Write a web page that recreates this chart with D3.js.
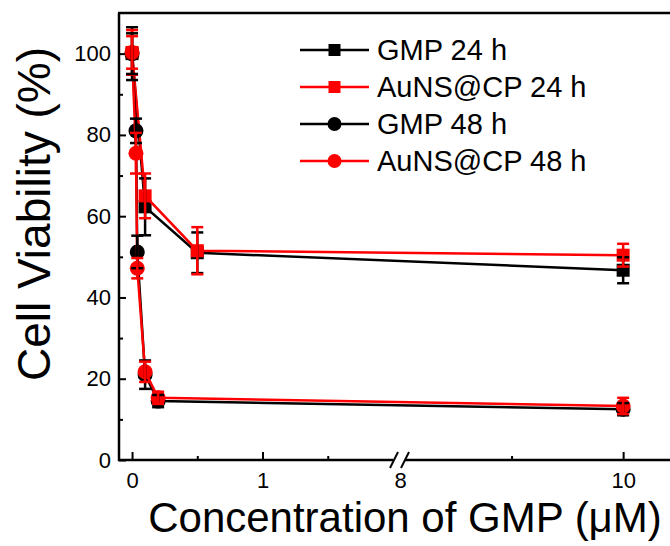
<!DOCTYPE html>
<html>
<head>
<meta charset="utf-8">
<script src="https://cdn.jsdelivr.net/npm/d3@7"></script>
<style>
  body { margin: 0; background: #fff; }
  svg text { font-family: Arial, "Liberation Sans", sans-serif; fill: #000; }
</style>
</head>
<body>
<div id="chart"></div>
<script>
// ---- values ----
var seriesNames = ['GMP 24 h', 'AuNS@CP 24 h', 'GMP 48 h', 'AuNS@CP 48 h'];
var seriesColors = ['#000000', '#ff0000', '#000000', '#ff0000'];
var seriesSymbols = ['square', 'square', 'circle', 'circle'];

var conc24 = [0, 0.1, 0.5, 10];
var gmp24 = [100, 62.3, 51, 46.7];
var gmp24Err = [6.5, 7, 5, 3.2];
var aun24 = [100.3, 65, 51.5, 50.4];
var aun24Err = [5.5, 5.5, 5.8, 2.8];

var conc48 = [0, 0.03, 0.04, 0.1, 0.2, 10];
var gmp48 = [100, 81, 51.2, 21, 14.5, 12.5];
var gmp48Err = [5, 3, 4, 3.5, 1.5, 1.5];
var aun48 = [100.3, 75.5, 47.2, 21.7, 15.3, 13.3];
var aun48Err = [4, 5, 2.5, 2.5, 1.5, 2];

var yTicks = [0, 20, 40, 60, 80, 100];
var yMinorTicks = [10, 30, 50, 70, 90];
var xTicksLeft = [0, 1];
var xMinorLeft = [0.5, 1.5];
var xTicksRight = [8, 10];
var xMinorRight = [9];

function renderChart() {
  var attrs = {
    svgWidth: 670,
    svgHeight: 546,
    plotLeft: 119,
    plotTop: 13,
    plotBottom: 460,
    plotRight: 670,
    breakLeft: 393,
    breakRight: 405
  };

  // build series rows from the arrays
  var xs = [conc24, conc24, conc48, conc48];
  var ys = [gmp24, aun24, gmp48, aun48];
  var es = [gmp24Err, aun24Err, gmp48Err, aun48Err];
  var series = seriesNames.map(function (name, i) {
    return {
      name: name,
      color: seriesColors[i],
      symbol: seriesSymbols[i],
      values: xs[i].map(function (x, j) { return { x: x, y: ys[i][j], e: es[i][j] }; })
    };
  });

  // ################## scales (broken x axis) ##################
  var scales = {};
  scales.xLeft = d3.scaleLinear().domain([-0.1, 2.0]).range([attrs.plotLeft, attrs.breakLeft]);
  scales.xRight = d3.scaleLinear().domain([8, 10.42]).range([400, attrs.plotRight]);
  scales.x = function (v) { return v <= 2 ? scales.xLeft(v) : scales.xRight(v); };
  scales.y = d3.scaleLinear().domain([0, 110]).range([attrs.plotBottom, attrs.plotTop]);

  var svg = d3.select('#chart').append('svg')
    .attr('width', attrs.svgWidth)
    .attr('height', attrs.svgHeight);

  var fmt = d3.format('d');

  // ################## axes ##################
  svg.append('g').attr('transform', 'translate(' + attrs.plotLeft + ',0)')
    .call(d3.axisLeft(scales.y).tickValues(yTicks).tickFormat(fmt).tickSize(-7).tickPadding(8));
  svg.append('g').attr('transform', 'translate(' + attrs.plotLeft + ',0)')
    .call(d3.axisLeft(scales.y).tickValues(yMinorTicks).tickSize(-4).tickFormat(''));

  svg.append('g').attr('transform', 'translate(0,' + attrs.plotBottom + ')')
    .call(d3.axisBottom(scales.xLeft).tickValues(xTicksLeft).tickFormat(fmt).tickSize(-8).tickPadding(12));
  svg.append('g').attr('transform', 'translate(0,' + attrs.plotBottom + ')')
    .call(d3.axisBottom(scales.xLeft).tickValues(xMinorLeft).tickSize(-4).tickFormat(''));
  var bottomR = svg.append('g').attr('transform', 'translate(0,' + attrs.plotBottom + ')')
    .call(d3.axisBottom(scales.xRight).tickValues(xTicksRight).tickFormat(fmt).tickSize(-8).tickPadding(12));
  svg.append('g').attr('transform', 'translate(0,' + attrs.plotBottom + ')')
    .call(d3.axisBottom(scales.xRight).tickValues(xMinorRight).tickSize(-4).tickFormat(''));

  // tick 8 sits inside the break, only its label shows
  bottomR.selectAll('.tick').filter(function (d) { return d === 8; }).select('line').remove();

  svg.selectAll('.domain').remove();
  svg.selectAll('.tick line').attr('stroke', '#000').attr('stroke-width', 2);
  svg.selectAll('.tick text').attr('font-size', 22).attr('fill', '#000');

  // axis lines drawn by hand so the break gap stays open
  var axisLines = [
    [attrs.plotLeft, attrs.plotTop, attrs.plotLeft, attrs.plotBottom + 1],
    [attrs.plotLeft - 1, attrs.plotBottom, attrs.breakLeft, attrs.plotBottom],
    [attrs.breakRight, attrs.plotBottom, attrs.plotRight, attrs.plotBottom],
    [attrs.plotLeft - 1, attrs.plotTop, attrs.plotRight, attrs.plotTop]
  ];
  svg.selectAll('.axis-line').data(axisLines).enter().append('line')
    .attr('class', 'axis-line')
    .attr('x1', function (d) { return d[0]; }).attr('y1', function (d) { return d[1]; })
    .attr('x2', function (d) { return d[2]; }).attr('y2', function (d) { return d[3]; })
    .attr('stroke', '#000').attr('stroke-width', 2.5);

  // break marks //
  var bx = (attrs.breakLeft + attrs.breakRight) / 2;
  [-5, 6].forEach(function (off) {
    svg.append('line')
      .attr('x1', bx + off - 4).attr('y1', attrs.plotBottom + 8)
      .attr('x2', bx + off + 4).attr('y2', attrs.plotBottom - 8)
      .attr('stroke', '#000').attr('stroke-width', 2);
  });

  // ################## data ##################
  var line = d3.line().x(function (d) { return scales.x(d.x); }).y(function (d) { return scales.y(d.y); });

  function drawSymbol(g, symbol, color, size) {
    if (symbol === 'square') {
      return g.append('rect')
        .attr('x', -size / 2).attr('y', -size / 2)
        .attr('width', size).attr('height', size)
        .attr('fill', color);
    }
    return g.append('circle').attr('r', size / 2 + 1).attr('fill', color);
  }

  var plot = svg.append('g');

  series.forEach(function (s) {
    plot.append('path')
      .datum(s.values)
      .attr('d', line)
      .attr('fill', 'none')
      .attr('stroke', s.color)
      .attr('stroke-width', 2.5);

    s.values.forEach(function (d) {
      var g = plot.append('g').attr('transform', 'translate(' + scales.x(d.x) + ',' + scales.y(d.y) + ')');
      drawSymbol(g, s.symbol, s.color, 13);
    });
  });

  // error bars on top of all markers
  series.forEach(function (s) {
    s.values.forEach(function (d) {
      var cx = scales.x(d.x);
      var y1 = scales.y(d.y + d.e);
      var y2 = scales.y(d.y - d.e);
      var g = plot.append('g').attr('stroke', s.color).attr('stroke-width', 2.5);
      g.append('line').attr('x1', cx).attr('x2', cx).attr('y1', y1).attr('y2', y2);
      g.append('line').attr('x1', cx - 6).attr('x2', cx + 6).attr('y1', y1).attr('y2', y1);
      g.append('line').attr('x1', cx - 6).attr('x2', cx + 6).attr('y1', y2).attr('y2', y2);
    });
  });

  // ################## legend ##################
  var legend = svg.append('g').attr('transform', 'translate(300,50)');
  series.forEach(function (s, i) {
    var row = legend.append('g').attr('transform', 'translate(0,' + (i * 37) + ')');
    row.append('line').attr('x1', 0).attr('x2', 69).attr('y1', 0).attr('y2', 0)
      .attr('stroke', s.color).attr('stroke-width', 2.5);
    var m = row.append('g').attr('transform', 'translate(34.5,0)');
    drawSymbol(m, s.symbol, s.color, 12);
    row.append('text').attr('x', 77).attr('y', 0).attr('dy', '0.36em')
      .attr('font-size', 29).text(s.name);
  });

  // ################## titles ##################
  svg.append('text')
    .attr('transform', 'translate(50,214) rotate(-90)')
    .attr('text-anchor', 'middle')
    .attr('font-size', 46)
    .text('Cell Viability (%)');

  svg.append('text')
    .attr('x', 405).attr('y', 532)
    .attr('text-anchor', 'middle')
    .attr('font-size', 42)
    .text('Concentration of GMP (\u03BCM)');
}

renderChart();
</script>
</body>
</html>
